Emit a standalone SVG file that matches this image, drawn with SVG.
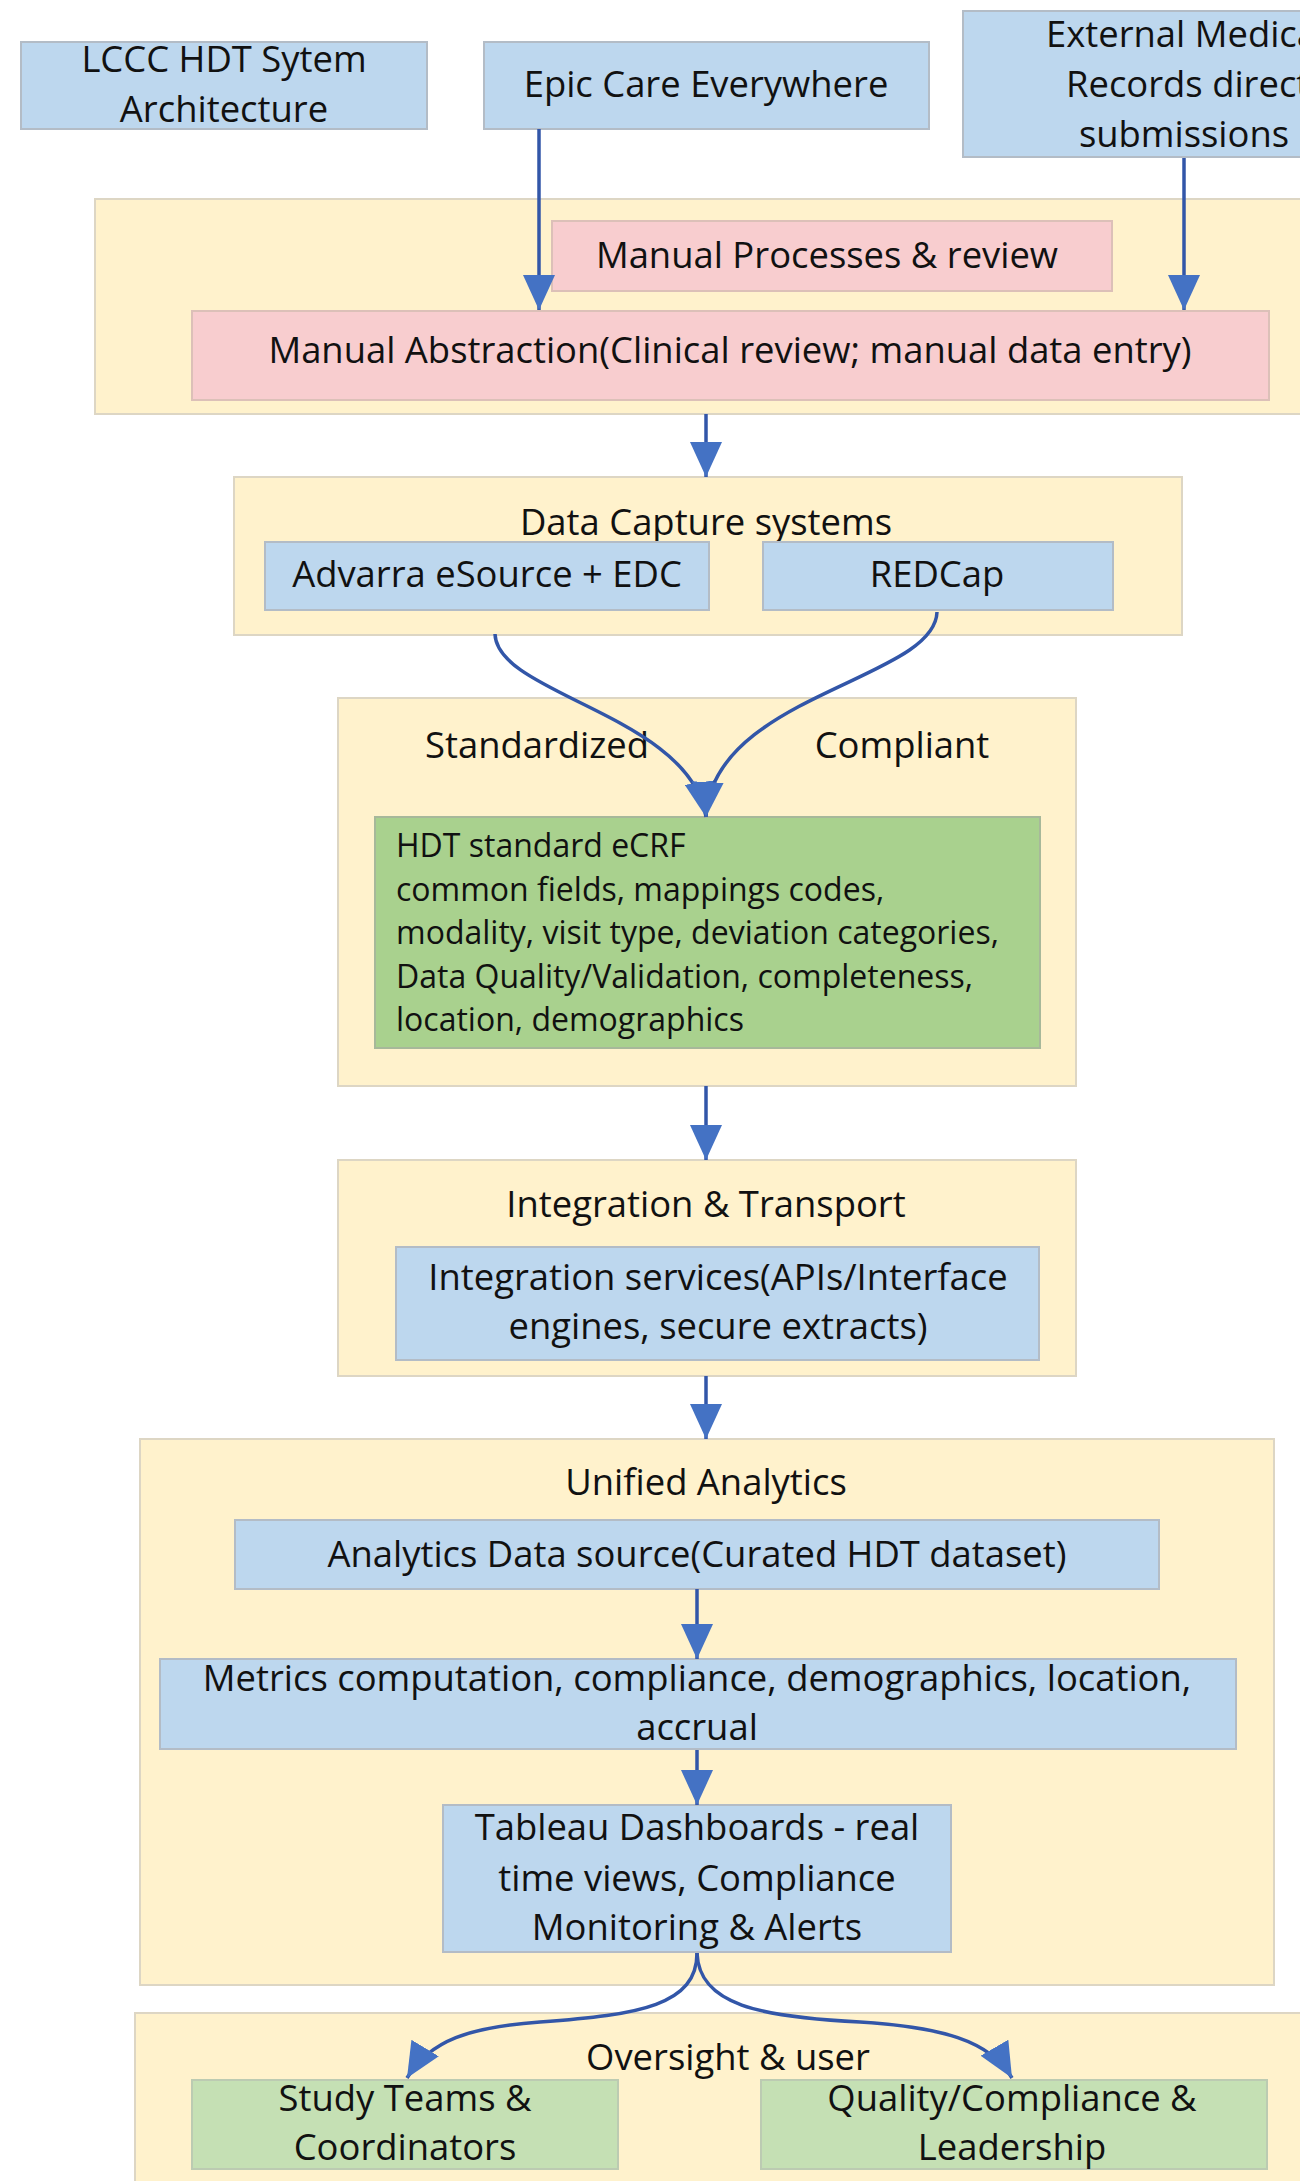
<svg xmlns="http://www.w3.org/2000/svg" width="1300" height="2181" viewBox="0 0 1300 2181">
<style>
text{font-family:"Open Sans",Lato,"Liberation Sans",sans-serif;fill:#111;font-size:36.4px}
.c{text-anchor:middle}
.s{font-size:32px}
.cont{fill:#FFF2CC;stroke:#ddd6c4;stroke-width:2}
.blue{fill:#BDD7EE;stroke:#b3bcc6;stroke-width:2}
.pink{fill:#F8CDCF;stroke:#dcc0b8;stroke-width:2}
.green{fill:#A9D18E;stroke:#a7b89a;stroke-width:2}
.lgreen{fill:#C5E0B4;stroke:#bccbb2;stroke-width:2}
.ln{fill:none;stroke:#3256A8;stroke-width:3.5;marker-end:url(#ah)}
</style>
<defs>
<marker id="ah" viewBox="0 0 35 32" refX="35" refY="16" markerWidth="35" markerHeight="32" markerUnits="userSpaceOnUse" orient="auto">
<path d="M0,0 L35,16 L0,32 z" fill="#4472C4"/>
</marker>
</defs>
<rect width="1300" height="2181" fill="#ffffff"/>

<g id="lccc"><rect class="blue" x="21" y="42" width="406" height="87"/>
<text class="c" x="224" y="72">LCCC HDT Sytem</text><text class="c" x="224" y="122">Architecture</text></g>
<g id="epic"><rect class="blue" x="484" y="42" width="445" height="87"/>
<text class="c" x="706" y="97">Epic Care Everywhere</text></g>
<g id="external"><rect class="blue" x="963" y="11" width="360" height="146"/>
<text x="1046" y="47">External Medica</text><text x="1066" y="97">Records direct</text><text class="c" x="1184" y="147">submissions</text></g>

<g id="manual-container"><rect class="cont" x="95" y="199" width="1230" height="215"/></g>
<g id="manual-processes"><rect class="pink" x="552" y="221" width="560" height="70"/>
<text class="c" x="827" y="268">Manual Processes &amp; review</text></g>
<g id="manual-abstraction"><rect class="pink" x="192" y="311" width="1077" height="89"/>
<text class="c" x="730" y="363">Manual Abstraction(Clinical review; manual data entry)</text></g>

<g id="data-capture"><rect class="cont" x="234" y="477" width="948" height="158"/>
<text class="c" x="706" y="535">Data Capture systems</text></g>
<g id="advarra"><rect class="blue" x="265" y="542" width="444" height="68"/>
<text class="c" x="487" y="587">Advarra eSource + EDC</text></g>
<g id="redcap"><rect class="blue" x="763" y="542" width="350" height="68"/>
<text class="c" x="937" y="587">REDCap</text></g>

<g id="standard-container"><rect class="cont" x="338" y="698" width="738" height="388"/>
<text class="c" x="537" y="758">Standardized</text><text class="c" x="902" y="758">Compliant</text></g>
<g id="ecrf"><rect class="green" x="375" y="817" width="665" height="231"/>
<text class="s" x="396" y="857">HDT standard eCRF</text>
<text class="s" x="396" y="900.5">common fields, mappings codes,</text>
<text class="s" x="396" y="944">modality, visit type, deviation categories,</text>
<text class="s" x="396" y="987.5">Data Quality/Validation, completeness,</text>
<text class="s" x="396" y="1031">location, demographics</text></g>

<g id="integration"><rect class="cont" x="338" y="1160" width="738" height="216"/>
<text class="c" x="706" y="1217">Integration &amp; Transport</text></g>
<g id="integration-services"><rect class="blue" x="396" y="1247" width="643" height="113"/>
<text class="c" x="718" y="1290">Integration services(APIs/Interface</text>
<text class="c" x="718" y="1339">engines, secure extracts)</text></g>

<g id="unified"><rect class="cont" x="140" y="1439" width="1134" height="546"/>
<text class="c" x="706" y="1495">Unified Analytics</text></g>
<g id="analytics-source"><rect class="blue" x="235" y="1520" width="924" height="69"/>
<text class="c" x="697" y="1567">Analytics Data source(Curated HDT dataset)</text></g>
<g id="metrics"><rect class="blue" x="160" y="1659" width="1076" height="90"/>
<text class="c" x="697" y="1691">Metrics computation, compliance, demographics, location,</text>
<text class="c" x="697" y="1740">accrual</text></g>
<g id="tableau"><rect class="blue" x="443" y="1805" width="508" height="147"/>
<text class="c" x="697" y="1840">Tableau Dashboards - real</text>
<text class="c" x="697" y="1891">time views, Compliance</text>
<text class="c" x="697" y="1940">Monitoring &amp; Alerts</text></g>

<g id="oversight"><rect class="cont" x="135" y="2013" width="1190" height="190"/>
<text class="c" x="728" y="2070">Oversight &amp; user</text></g>
<g id="study-teams"><rect class="lgreen" x="192" y="2080" width="426" height="89"/>
<text class="c" x="405" y="2111">Study Teams &amp;</text><text class="c" x="405" y="2160">Coordinators</text></g>
<g id="quality"><rect class="lgreen" x="761" y="2080" width="506" height="89"/>
<text class="c" x="1012" y="2111">Quality/Compliance &amp;</text><text class="c" x="1012" y="2160">Leadership</text></g>

<g id="connectors">
<path class="ln" d="M539 129 L539 310"/>
<path class="ln" d="M1184 158 L1184 310"/>
<path class="ln" d="M706 414 L706 477"/>
<path class="ln" d="M495 634 C497 695 690 715 706 817"/>
<path class="ln" d="M937 612 C935 680 712 695 706 817"/>
<path class="ln" d="M706 1086 L706 1160"/>
<path class="ln" d="M706 1376 L706 1439"/>
<path class="ln" d="M697 1589 L697 1659"/>
<path class="ln" d="M697 1750 L697 1805"/>
<path class="ln" d="M697 1953 C697 2005 640 2015 540 2022 C470 2027 430 2040 407 2078"/>
<path class="ln" d="M697 1953 C699 2005 760 2017 860 2022 C940 2027 990 2040 1012 2078"/>
</g>
</svg>
